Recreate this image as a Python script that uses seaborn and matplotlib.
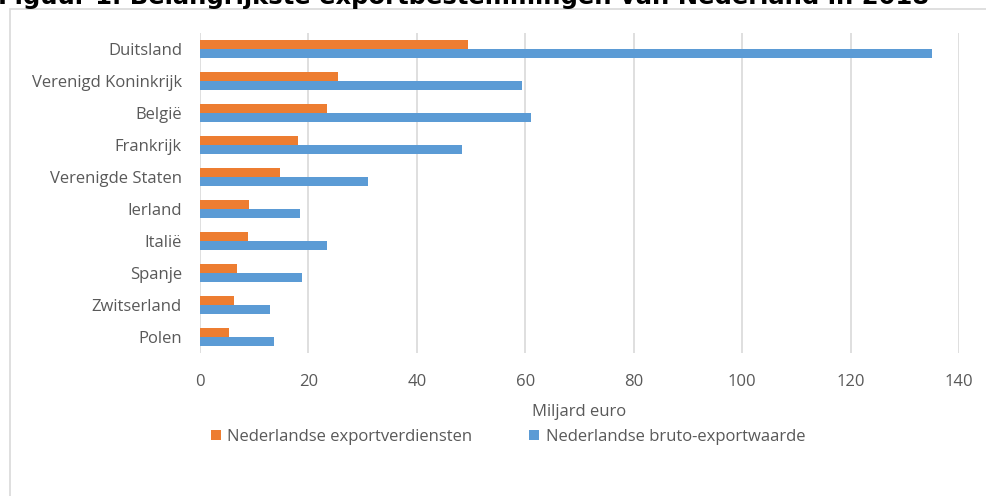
import numpy as np
import pandas as pd
from matplotlib import pyplot as plt
from matplotlib.patches import Rectangle
import seaborn as sns

# export destinations of the Netherlands, billion euro
countries = ['Duitsland', 'Verenigd Koninkrijk', 'België', 'Frankrijk', 'Verenigde Staten',
             'Ierland', 'Italië', 'Spanje', 'Zwitserland', 'Polen']
verdiensten = [49.4, 25.4, 23.5, 18.0, 14.7, 9.1, 8.9, 6.9, 6.2, 5.4]
bruto = [135.1, 59.4, 61.0, 48.4, 30.9, 18.4, 23.5, 18.8, 12.9, 13.7]
series = ['Nederlandse exportverdiensten', 'Nederlandse bruto-exportwaarde']
xticks = [0, 20, 40, 60, 80, 100, 120, 140]

colors = ['#ED7D31', '#5B9BD5']
grey_text = '#595959'
grid_col = '#d9d9d9'

# long format for seaborn
df = pd.DataFrame({
    'land': countries * 2,
    'waarde': verdiensten + bruto,
    'reeks': [series[0]] * len(countries) + [series[1]] * len(countries),
})

sns.set_theme(style='white')
plt.rcParams['font.family'] = ['Open Sans', 'DejaVu Sans']

fig = plt.figure(figsize=(9.86, 4.96), dpi=100)
ax = fig.add_axes([200 / 986, 1 - 353 / 496, 759 / 986, 320 / 496])

# light frame around the chart area (cut off at right and bottom like the original)
fig.patches.append(Rectangle((10 / 986, -0.05), 1.1, 1 - 9 / 496 + 0.05,
                             transform=fig.transFigure, fill=False,
                             edgecolor=grid_col, linewidth=1.2))

sns.barplot(data=df, x='waarde', y='land', hue='reeks', order=countries,
            hue_order=series, palette=colors, width=0.54, orient='h',
            saturation=1, linewidth=0, ax=ax, legend=True)

ax.set_xlim(0, 140)
ax.set_xticks(xticks)
ax.set_xticklabels([str(t) for t in xticks])
ax.grid(axis='x', color=grid_col, linewidth=1.2)
ax.set_axisbelow(True)
for s in ax.spines.values():
    s.set_visible(False)
ax.tick_params(axis='y', length=0, pad=13, labelsize=12, labelcolor=grey_text)
ax.tick_params(axis='x', length=0, pad=15, labelsize=12, labelcolor=grey_text)
ax.set_ylabel('')
ax.set_xlabel('Miljard euro', fontsize=12, color=grey_text, labelpad=10)

handles, labels = ax.get_legend_handles_labels()
ax.get_legend().remove()
fig.legend(handles, labels, loc='center', bbox_to_anchor=(508 / 986, 1 - 437 / 496),
           ncol=2, frameon=False, fontsize=12, labelcolor=grey_text,
           handlelength=0.6, handleheight=0.6, handletextpad=0.4, columnspacing=3.4)

fig.text(-2 / 986, 1 - 4 / 496, 'Figuur 1. Belangrijkste exportbestemmingen van Nederland in 2018',
         fontsize=17.5, fontweight='bold', family='DejaVu Sans', va='baseline', ha='left', color='black')

fig.savefig('out.png', dpi=100)
